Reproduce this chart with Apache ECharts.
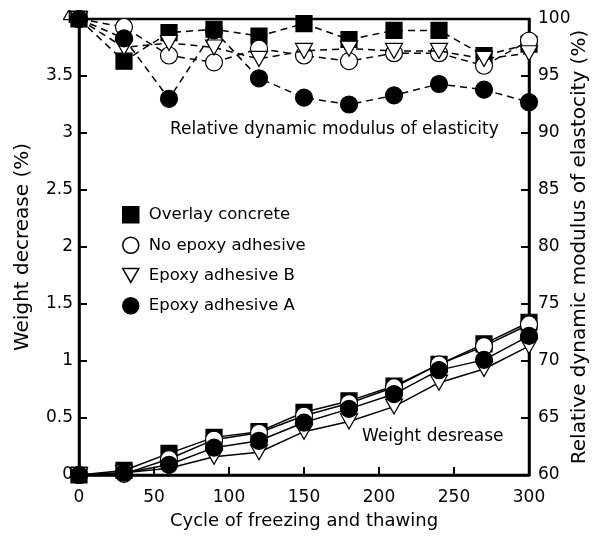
<!DOCTYPE html>
<html>
<head>
<meta charset="utf-8">
<script src="https://cdn.jsdelivr.net/npm/echarts@6/dist/echarts.min.js"></script>
<style>html,body{margin:0;padding:0;background:#fff;}#c{width:593px;height:536px;}</style>
</head>
<body>
<div id="c"></div>
<script>
const cycles = [0, 30, 60, 90, 120, 150, 180, 210, 240, 270, 300];
const seriesNames = ['Overlay concrete', 'No epoxy adhesive', 'Epoxy adhesive B', 'Epoxy adhesive A'];
// Weight decrease (%)
const weightOverlay = [0, 0.04, 0.19, 0.33, 0.38, 0.55, 0.65, 0.78, 0.97, 1.15, 1.34];
const weightNoEpoxy = [0, 0.01, 0.14, 0.31, 0.37, 0.52, 0.63, 0.77, 0.97, 1.13, 1.32];
const weightEpoxyB  = [0, 0.02, 0.06, 0.16, 0.20, 0.38, 0.47, 0.60, 0.81, 0.93, 1.13];
const weightEpoxyA  = [0, 0.02, 0.09, 0.24, 0.30, 0.46, 0.58, 0.71, 0.92, 1.01, 1.22];
// Relative dynamic modulus of elasticity (%)
const modOverlay = [100, 96.3, 98.8, 99.1, 98.5, 99.6, 98.2, 99.0, 99.0, 96.8, 97.8];
const modNoEpoxy = [100, 99.3, 96.8, 96.2, 97.4, 96.8, 96.3, 97.0, 97.0, 95.9, 98.1];
const modEpoxyB  = [100, 97.5, 97.9, 97.5, 96.5, 97.2, 97.4, 97.2, 97.2, 96.5, 97.0];
const modEpoxyA  = [100, 98.3, 93.0, 99.0, 94.8, 93.1, 92.5, 93.3, 94.3, 93.8, 92.7];

const FONT = '"DejaVu Sans", "Liberation Sans", sans-serif';
const triPath = 'path://M0,0 L10,0 L5,8.66 Z';
const styles = [
  {symbol: 'rect', size: 16, fill: '#000'},
  {symbol: 'circle', size: 17, fill: '#fff'},
  {symbol: triPath, size: 17, fill: '#fff'},
  {symbol: 'circle', size: 17, fill: '#000'}
];
const weightData = [weightOverlay, weightNoEpoxy, weightEpoxyB, weightEpoxyA];
const modData = [modOverlay, modNoEpoxy, modEpoxyB, modEpoxyA];
const pairs = (ys) => cycles.map((x, i) => [x, ys[i]]);

const series = [];
[0, 1, 2, 3].forEach((k) => {
  const st = styles[k];
  const size = st.symbol === triPath ? [17, 15] : st.size;
  series.push({
    name: seriesNames[k], type: 'line', yAxisIndex: 1, data: pairs(modData[k]),
    symbol: st.symbol, symbolSize: size,
    lineStyle: {color: '#000', width: 1.5, type: [7, 5]},
    itemStyle: {color: st.fill, borderColor: '#000', borderWidth: 1.2},
    z: 3 + k, animation: false, clip: false
  });
  series.push({
    name: seriesNames[k], type: 'line', yAxisIndex: 0, data: pairs(weightData[k]),
    symbol: st.symbol, symbolSize: size,
    lineStyle: {color: '#000', width: 1.5},
    itemStyle: {color: st.fill, borderColor: '#000', borderWidth: 1.2},
    z: 3 + k, animation: false, clip: false
  });
});

const chart = echarts.init(document.getElementById('c'), null, {renderer: 'canvas'});
chart.setOption({
  backgroundColor: '#fff',
  animation: false,
  textStyle: {fontFamily: FONT, color: '#000'},
  grid: {left: 79, right: 64, top: 19, bottom: 61, show: true, borderColor: '#000', borderWidth: 2.5,
         backgroundColor: 'transparent', containLabel: false, outerBoundsMode: 'none'},
  legend: {
    orient: 'vertical', left: 117, top: 201, itemWidth: 16, itemHeight: 16, itemGap: 13,
    textStyle: {fontFamily: FONT, fontSize: 16.5, color: '#000', padding: [0, 0, 0, 5]},
    data: seriesNames.map((n, k) => ({
      name: n,
      icon: k === 2 ? triPath : (styles[k].symbol === 'rect' ? 'rect' : 'circle'),
      itemStyle: {color: styles[k].fill, borderColor: '#000', borderWidth: 1.5}
    }))
  },
  xAxis: {
    type: 'value', min: 0, max: 300, interval: 50,
    name: 'Cycle of freezing and thawing', nameLocation: 'middle', nameGap: 37, nameMoveOverlap: false,
    nameTextStyle: {fontFamily: FONT, fontSize: 18, color: '#000'},
    axisLine: {show: true, lineStyle: {color: '#000', width: 2.5}},
    axisTick: {show: true, inside: true, length: 8, lineStyle: {color: '#000', width: 2}},
    axisLabel: {fontFamily: FONT, fontSize: 17, color: '#000', margin: 14},
    splitLine: {show: false}
  },
  yAxis: [
    {
      type: 'value', min: 0, max: 4, interval: 0.5, position: 'left',
      name: 'Weight decrease (%)', nameLocation: 'middle', nameGap: 46, nameRotate: 90, nameMoveOverlap: false,
      nameTextStyle: {fontFamily: FONT, fontSize: 20, color: '#000'},
      axisLine: {show: true, lineStyle: {color: '#000', width: 2.5}},
      axisTick: {show: true, inside: true, length: 8, lineStyle: {color: '#000', width: 2}},
      axisLabel: {fontFamily: FONT, fontSize: 17, color: '#000', margin: 6},
      splitLine: {show: false}
    },
    {
      type: 'value', min: 60, max: 100, interval: 5, position: 'right',
      name: 'Relative dynamic modulus of elastocity (%)', nameLocation: 'middle', nameGap: 41, nameRotate: 90, nameMoveOverlap: false,
      nameTextStyle: {fontFamily: FONT, fontSize: 20, color: '#000'},
      axisLine: {show: true, lineStyle: {color: '#000', width: 2.5}},
      axisTick: {show: true, inside: true, length: 8, lineStyle: {color: '#000', width: 2}},
      axisLabel: {fontFamily: FONT, fontSize: 17, color: '#000', margin: 9},
      splitLine: {show: false}
    }
  ],
  graphic: [
    {type: 'text', left: 170, top: 121, style: {text: 'Relative dynamic modulus of elasticity', font: '17px ' + FONT, fill: '#000'}},
    {type: 'text', left: 362, top: 428, style: {text: 'Weight desrease', font: '17px ' + FONT, fill: '#000'}}
  ],
  series: series
});
</script>
</body>
</html>
